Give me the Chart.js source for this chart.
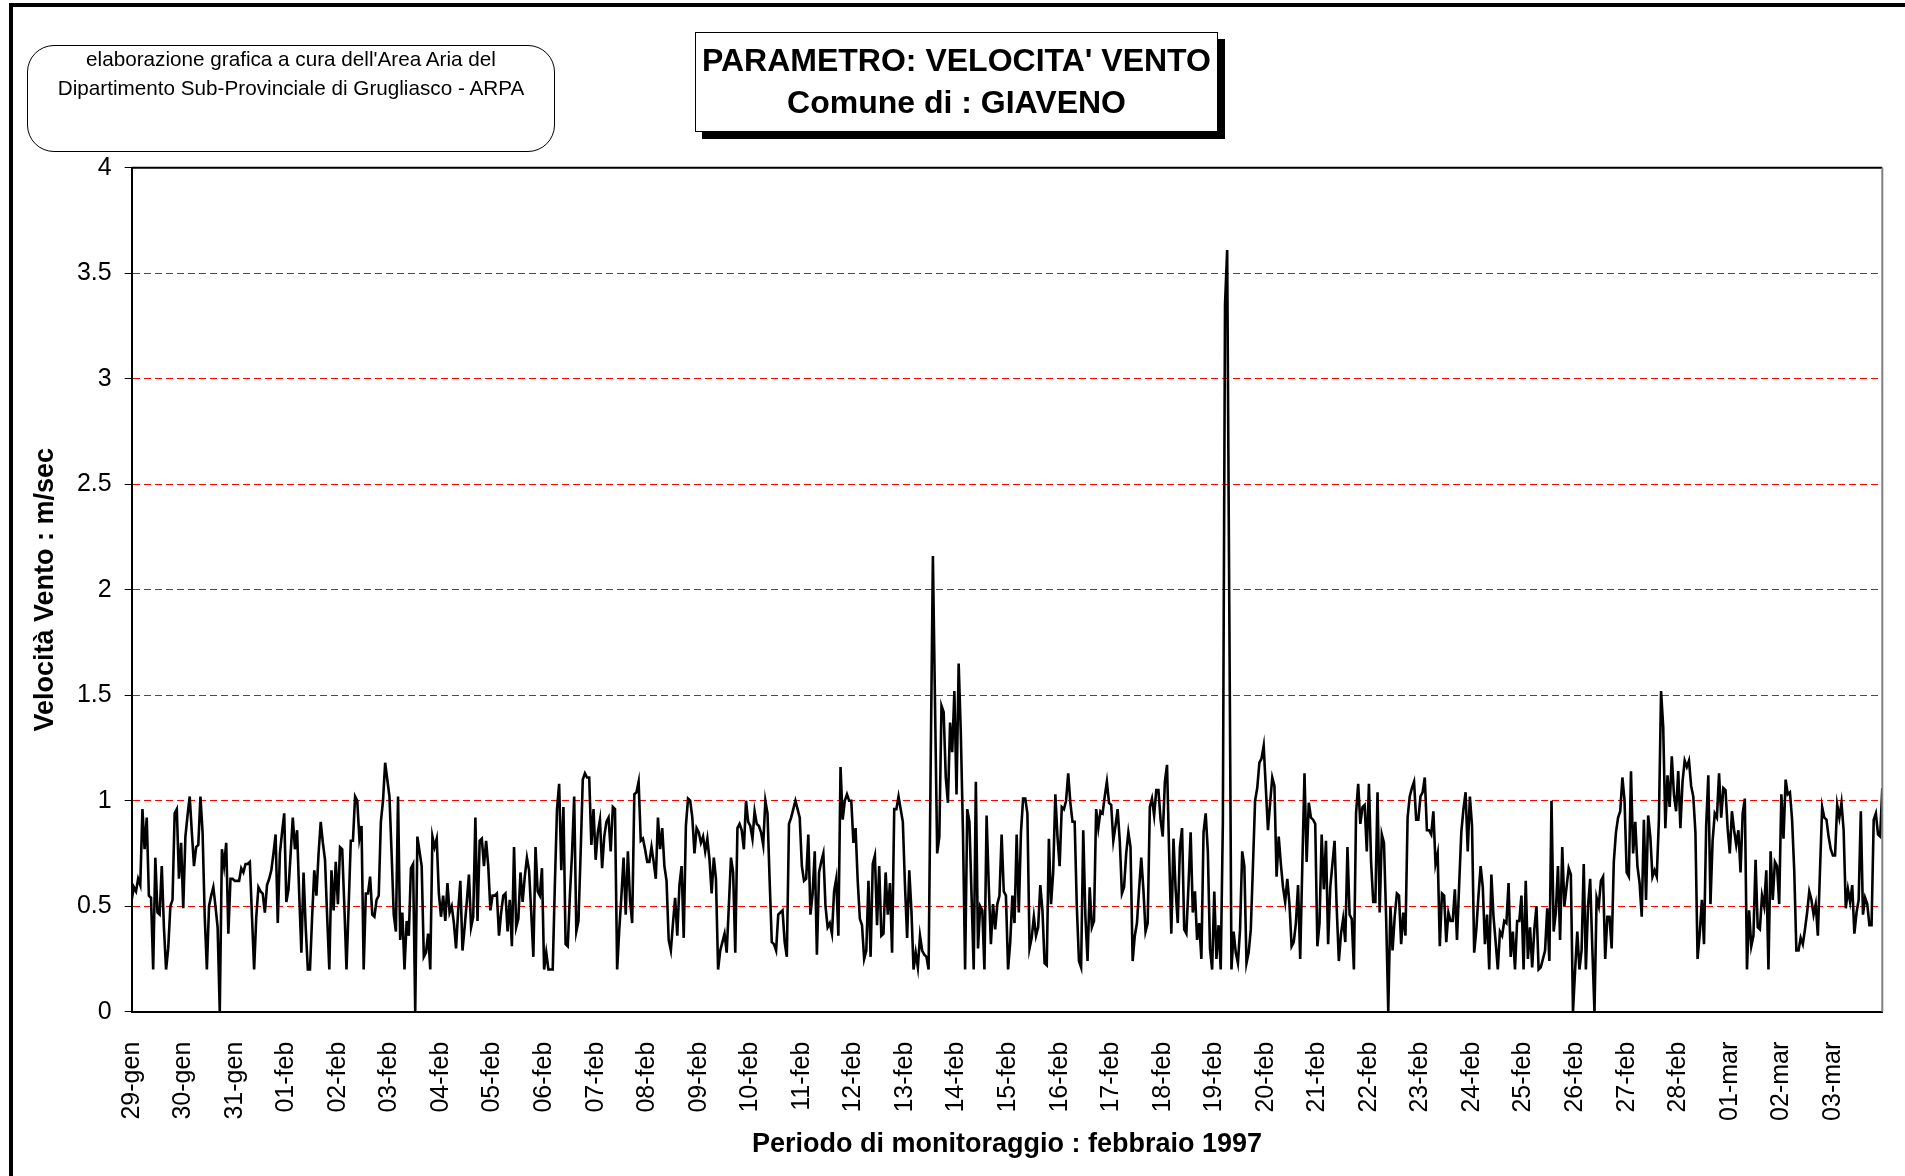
<!DOCTYPE html>
<html>
<head>
<meta charset="utf-8">
<title>Velocità vento - Giaveno</title>
<script src="https://cdn.jsdelivr.net/npm/chart.js@4.4.0/dist/chart.umd.min.js"></script>
<style>
  body { margin: 0; background: #fff; overflow: hidden; }
  #page { position: relative; width: 1905px; height: 1176px; overflow: hidden; font-family: "Liberation Sans", Arial, sans-serif; color: #000; }
  #frame { position: absolute; left: 9px; top: 3px; width: 2000px; height: 2000px; border: 4px solid #000; }
  #chart { position: absolute; left: 0; top: 0; }
  .note { position: absolute; left: 27px; top: 45px; width: 526px; height: 105px; border: 1px solid #000; border-radius: 27px; background: #fff; }
  .note div { position: absolute; left: 0; width: 100%; text-align: center; font-size: 20.7px; line-height: 24px; }
  .title { position: absolute; left: 695px; top: 32px; width: 521px; height: 98px; border: 1px solid #000; box-shadow: 7px 7px 0 #000; background: #fff; }
  .title div { position: absolute; left: 0; width: 100%; text-align: center; font-weight: bold; font-size: 32px; line-height: 36px; }
</style>
</head>
<body>
<div id="page">
  <div id="frame"></div>
  <canvas id="chart" width="1905" height="1176"></canvas>
  <div class="note">
    <div style="top:1px">elaborazione grafica a cura dell'Area Aria del</div>
    <div style="top:30px">Dipartimento Sub-Provinciale di Grugliasco - ARPA</div>
  </div>
  <div class="title">
    <div style="top:9px">PARAMETRO: VELOCITA' VENTO</div>
    <div style="top:51px">Comune di : GIAVENO</div>
  </div>
</div>
<script>
// one label per day, placed on the first hourly reading of that day
const dayLabels = ['29-gen', '30-gen', '31-gen',
    '01-feb', '02-feb', '03-feb', '04-feb', '05-feb', '06-feb', '07-feb', '08-feb', '09-feb', '10-feb',
    '11-feb', '12-feb', '13-feb', '14-feb', '15-feb', '16-feb', '17-feb', '18-feb', '19-feb', '20-feb',
    '21-feb', '22-feb', '23-feb', '24-feb', '25-feb', '26-feb', '27-feb', '28-feb',
    '01-mar', '02-mar', '03-mar'];

const yTicks = [0, 0.5, 1, 1.5, 2, 2.5, 3, 3.5, 4];

// hourly wind speed (m/s), 24 readings per day
const gen29 = [0.53,0.59,0.57,0.63,0.6,0.96,0.77,0.92,0.55,0.54,0.2,0.73,0.47,0.46,0.69,0.4,0.2,0.3,0.5,0.53,0.94,0.96,0.63,0.8];
const gen30 = [0.49,0.83,0.93,1.02,0.85,0.69,0.78,0.79,1.02,0.85,0.45,0.2,0.5,0.55,0.59,0.5,0.4,0,0.77,0.69,0.8,0.37,0.63,0.63];
const gen31 = [0.62,0.62,0.62,0.68,0.66,0.7,0.7,0.71,0.45,0.2,0.45,0.59,0.57,0.56,0.47,0.6,0.63,0.67,0.75,0.84,0.42,0.75,0.85,0.94];
const feb01 = [0.52,0.58,0.75,0.92,0.77,0.86,0.55,0.28,0.66,0.4,0.2,0.2,0.45,0.67,0.55,0.75,0.9,0.8,0.72,0.45,0.2,0.67,0.48,0.71];
const feb02 = [0.51,0.78,0.77,0.5,0.2,0.5,0.81,0.81,1.02,1.0,0.82,0.88,0.2,0.56,0.56,0.64,0.46,0.45,0.53,0.55,0.9,1.0,1.18,1.1];
const feb03 = [1.02,0.75,0.46,0.38,1.02,0.34,0.47,0.2,0.43,0.36,0.68,0.7,0,0.83,0.76,0.69,0.26,0.28,0.37,0.2,0.83,0.78,0.82,0.56];
const feb04 = [0.45,0.55,0.43,0.61,0.47,0.5,0.42,0.3,0.48,0.62,0.29,0.4,0.52,0.65,0.4,0.45,0.92,0.43,0.81,0.82,0.69,0.81,0.69,0.48];
const feb05 = [0.55,0.55,0.56,0.36,0.47,0.55,0.56,0.38,0.53,0.31,0.78,0.4,0.44,0.66,0.52,0.64,0.73,0.67,0.47,0.26,0.78,0.57,0.55,0.68];
const feb06 = [0.2,0.28,0.2,0.2,0.2,0.6,0.96,1.08,0.67,0.97,0.32,0.31,0.55,0.75,1.02,0.38,0.43,0.75,1.1,1.13,1.11,1.11,0.79,0.96];
const feb07 = [0.72,0.85,0.91,0.68,0.83,0.9,0.92,0.76,0.97,0.96,0.2,0.39,0.55,0.73,0.46,0.76,0.53,0.42,1.03,1.04,1.09,0.81,0.82,0.77];
const feb08 = [0.71,0.71,0.78,0.71,0.63,0.92,0.77,0.87,0.69,0.62,0.34,0.29,0.42,0.54,0.36,0.6,0.69,0.35,0.88,1.01,1.0,0.92,0.75,0.87];
const feb09 = [0.85,0.8,0.83,0.76,0.82,0.72,0.56,0.73,0.63,0.2,0.29,0.33,0.37,0.28,0.5,0.73,0.66,0.28,0.87,0.89,0.86,0.77,1.0,0.9];
const feb10 = [0.88,0.82,0.95,0.89,0.88,0.85,0.79,1.0,0.94,0.62,0.33,0.32,0.29,0.46,0.47,0.48,0.33,0.26,0.89,0.92,0.96,1.0,0.96,0.92];
const feb11 = [0.69,0.62,0.63,0.84,0.46,0.56,0.76,0.27,0.66,0.71,0.75,0.5,0.4,0.42,0.37,0.57,0.63,0.36,1.16,0.91,1.0,1.03,1.0,1.0];
const feb12 = [0.8,0.87,0.62,0.44,0.41,0.25,0.29,0.62,0.26,0.7,0.74,0.41,0.69,0.36,0.37,0.66,0.46,0.61,0.28,0.96,0.96,1.02,0.96,0.9];
const feb13 = [0.6,0.35,0.67,0.48,0.2,0.28,0.21,0.36,0.29,0.27,0.26,0.2,1.2,2.16,1.45,0.75,0.83,1.45,1.42,1.11,0.99,1.37,1.23,1.52];
const feb14 = [1.03,1.65,1.32,0.85,0.2,0.96,0.9,0.55,0.2,1.09,0.3,0.5,0.48,0.2,0.93,0.6,0.32,0.51,0.39,0.51,0.55,0.84,0.57,0.55];
const feb15 = [0.2,0.33,0.55,0.42,0.84,0.47,0.85,1.01,1.01,0.94,0.3,0.35,0.45,0.36,0.4,0.6,0.48,0.23,0.22,0.82,0.51,0.66,1.03,0.83];
const feb16 = [0.69,0.97,0.96,1.0,1.13,0.99,0.9,0.9,0.5,0.24,0.21,0.86,0.45,0.24,0.59,0.4,0.43,0.96,0.87,0.95,0.94,1.02,1.09,0.99];
const feb17 = [0.98,0.81,0.88,0.96,0.81,0.56,0.59,0.75,0.85,0.78,0.24,0.36,0.42,0.58,0.73,0.58,0.38,0.42,0.97,1.01,0.93,1.05,1.05,0.91];
const feb18 = [0.83,1.09,1.17,0.75,0.37,0.82,0.58,0.42,0.78,0.87,0.39,0.37,0.6,0.85,0.47,0.57,0.34,0.42,0.25,0.85,0.94,0.76,0.3,0.2];
const feb19 = [0.57,0.25,0.41,0.2,0.9,3.35,3.61,1.9,0.2,0.38,0.28,0.23,0.39,0.76,0.69,0.23,0.28,0.39,0.69,1.0,1.06,1.18,1.2,1.26];
const feb20 = [1.06,0.86,0.99,1.11,1.07,0.64,0.83,0.7,0.59,0.52,0.63,0.51,0.31,0.33,0.42,0.6,0.25,0.7,1.13,0.71,0.99,0.92,0.91,0.89];
const feb21 = [0.31,0.42,0.84,0.58,0.81,0.32,0.59,0.7,0.81,0.49,0.24,0.37,0.44,0.33,0.78,0.46,0.44,0.2,0.94,1.08,0.89,0.97,0.98,0.76];
const feb22 = [1.08,0.71,0.52,0.52,1.04,0.47,0.84,0.8,0.45,0,0.5,0.29,0.45,0.56,0.55,0.32,0.47,0.36,0.92,1.02,1.06,1.09,0.91,0.91];
const feb23 = [1.02,1.04,1.11,0.86,0.86,0.84,0.95,0.7,0.75,0.31,0.56,0.55,0.33,0.47,0.43,0.43,0.58,0.34,0.6,0.85,0.96,1.04,0.76,1.02];
const feb24 = [0.88,0.28,0.39,0.55,0.69,0.59,0.32,0.46,0.2,0.65,0.45,0.33,0.2,0.38,0.36,0.43,0.42,0.61,0.26,0.38,0.2,0.43,0.43,0.55];
const feb25 = [0.2,0.62,0.25,0.4,0.21,0.39,0.5,0.2,0.21,0.25,0.29,0.49,0.24,1.0,0.38,0.47,0.69,0.34,0.78,0.5,0.59,0.68,0.65,0];
const feb26 = [0.2,0.38,0.2,0.29,0.7,0.2,0.5,0.63,0.3,0,0.54,0.5,0.62,0.64,0.25,0.45,0.45,0.3,0.71,0.85,0.92,0.95,1.11,1.0];
const feb27 = [0.66,0.64,1.14,0.75,0.9,0.69,0.61,0.45,0.91,0.53,0.93,0.83,0.64,0.67,0.64,0.91,1.52,1.35,0.87,1.12,0.97,1.21,1.03,0.95];
const feb28 = [1.14,0.87,1.09,1.19,1.16,1.19,1.07,1.02,0.85,0.25,0.37,0.53,0.32,0.88,1.12,0.51,0.81,0.94,0.92,1.13,0.92,1.06,1.05,0.87];
const mar01 = [0.75,0.95,0.86,0.79,0.86,0.66,0.94,1.01,0.2,0.48,0.31,0.36,0.72,0.4,0.39,0.55,0.5,0.67,0.2,0.76,0.53,0.71,0.69,0.51];
const mar02 = [1.03,0.82,1.1,1.03,1.04,0.91,0.67,0.29,0.29,0.35,0.32,0.39,0.47,0.57,0.53,0.46,0.51,0.36,0.67,0.97,0.92,0.91,0.83,0.77];
const mar03 = [0.74,0.74,0.98,0.92,0.99,0.86,0.49,0.58,0.52,0.6,0.37,0.47,0.53,0.95,0.46,0.54,0.51,0.41,0.41,0.91,0.94,0.84,0.83,1.06];

const days = [gen29, gen30, gen31, feb01, feb02, feb03, feb04, feb05, feb06, feb07, feb08, feb09, feb10,
    feb11, feb12, feb13, feb14, feb15, feb16, feb17, feb18, feb19, feb20, feb21, feb22, feb23, feb24,
    feb25, feb26, feb27, feb28, mar01, mar02, mar03];
const speed = [].concat(...days);

// plot area box, as in the reference
const plotLeft = 131.7, plotRight = 1882.3, plotTop = 167.7, plotBottom = 1011.7;

// top border black, right border grey
const plotFrame = {
    id: 'plotFrame',
    afterDraw(chart) {
        const { ctx, chartArea: a } = chart;
        ctx.save();
        ctx.lineWidth = 2;
        ctx.strokeStyle = '#000';
        ctx.beginPath();
        ctx.moveTo(a.left, a.top);
        ctx.lineTo(a.right, a.top);
        ctx.stroke();
        ctx.strokeStyle = '#808080';
        ctx.beginPath();
        ctx.moveTo(a.right, a.top);
        ctx.lineTo(a.right, a.bottom);
        ctx.stroke();
        ctx.restore();
    },
};

new Chart(document.getElementById('chart'), {
    type: 'line',
    data: {
        datasets: [{
            data: speed.map((v, i) => ({ x: i, y: v })),
            borderColor: '#000',
            borderWidth: 2.6,
            pointRadius: 0,
            tension: 0,
        }],
    },
    options: {
        responsive: false,
        devicePixelRatio: 1,
        animation: false,
        parsing: false,
        layout: { padding: { left: 0, top: plotTop, right: 1905 - plotRight, bottom: 0 } },
        plugins: { legend: { display: false }, tooltip: { enabled: false } },
        scales: {
            x: {
                type: 'linear',
                min: 0,
                max: speed.length - 1,
                afterFit: (s) => { s.height = 1176 - plotBottom; },
                grid: { display: false },
                border: { display: true, color: '#000', width: 2 },
                ticks: {
                    stepSize: 24,
                    autoSkip: false,
                    includeBounds: false,
                    minRotation: 90,
                    maxRotation: 90,
                    padding: 22,
                    color: '#000',
                    font: { family: 'Liberation Sans', size: 25 },
                    callback: (v) => (v % 24 === 0 ? dayLabels[v / 24] : ''),
                },
                title: {
                    display: true,
                    text: 'Periodo di monitoraggio : febbraio 1997',
                    color: '#000',
                    font: { family: 'Liberation Sans', size: 27, weight: 'bold' },
                    padding: { top: 0, bottom: 15 },
                },
            },
            y: {
                min: yTicks[0],
                max: yTicks[yTicks.length - 1],
                afterFit: (s) => { s.width = plotLeft; },
                afterBuildTicks: (s) => { s.ticks = yTicks.map(v => ({ value: v })); },
                grid: {
                    color: (c) => (c.tick && c.tick.value > 0 && c.tick.value < 4 ? '#ff0000' : 'rgba(0,0,0,0)'),
                    lineWidth: 1,
                    tickColor: '#000',
                    tickLength: 7,
                    tickBorderDash: [],
                },
                border: { display: true, color: '#000', width: 2, dash: [7, 4] },
                ticks: {
                    padding: 13,
                    color: '#000',
                    font: { family: 'Liberation Sans', size: 25 },
                    callback: (v) => String(v),
                },
                title: {
                    display: true,
                    text: 'Velocità Vento : m/sec',
                    color: '#000',
                    font: { family: 'Liberation Sans', size: 27, weight: 'bold' },
                    padding: { top: 29, bottom: 0 },
                },
            },
        },
    },
    plugins: [plotFrame],
});
</script>
</body>
</html>
